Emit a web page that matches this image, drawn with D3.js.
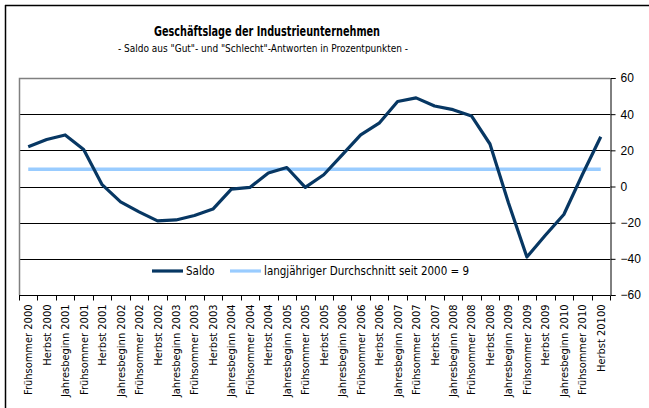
<!DOCTYPE html>
<html>
<head>
<meta charset="utf-8">
<script src="https://cdn.jsdelivr.net/npm/d3@7"></script>
<style>
  body { margin: 0; background: #fff; }
  svg { display: block; }
</style>
</head>
<body>
<div id="chart"></div>
<script>
// Data
const categories = [
  "Frühsommer 2000", "Herbst 2000", "Jahresbeginn 2001", "Frühsommer 2001", "Herbst 2001",
  "Jahresbeginn 2002", "Frühsommer 2002", "Herbst 2002", "Jahresbeginn 2003", "Frühsommer 2003",
  "Herbst 2003", "Jahresbeginn 2004", "Frühsommer 2004", "Herbst 2004", "Jahresbeginn 2005",
  "Frühsommer 2005", "Herbst 2005", "Jahresbeginn 2006", "Frühsommer 2006", "Herbst 2006",
  "Jahresbeginn 2007", "Frühsommer 2007", "Herbst 2007", "Jahresbeginn 2008", "Frühsommer 2008",
  "Herbst 2008", "Jahresbeginn 2009", "Frühsommer 2009", "Herbst 2009", "Jahresbeginn 2010",
  "Frühsommer 2010", "Herbst 20100"
];
const saldo = [
  22, 26, 28.5, 20.5, 1, -8.5, -14, -19, -18.5, -16,
  -12.5, -1.5, -0.5, 7.5, 10.5, -0.5, 6.5, 17.5, 28.5, 35,
  47, 49, 44.5, 42.5, 39, 23.5, -9, -39, -27, -15.5,
  6.5, 27.5
];
const average = 9.5;
const yTicks = [-60, -40, -20, 0, 20, 40, 60];
const title = "Geschäftslage der Industrieunternehmen";
const subtitle = '- Saldo aus "Gut"- und "Schlecht"-Antworten in Prozentpunkten -';
const legendLabels = ["Saldo", "langjähriger Durchschnitt seit 2000 = 9"];

const width = 649, height = 408;
const plot = { left: 19, right: 610, top: 78, bottom: 295 };
const labelFont = "'DejaVu Sans Condensed', 'DejaVu Sans', sans-serif";
const saldoColor = "#073763";
const avgColor = "#99ccff";

const svg = d3.select("#chart").append("svg")
  .attr("width", width)
  .attr("height", height);

// outer frame (top and left edges only are visible)
svg.append("line").attr("x1", 5).attr("x2", width).attr("y1", 5.5).attr("y2", 5.5)
  .attr("stroke", "#000").attr("stroke-width", 1.5);
svg.append("line").attr("x1", 5.5).attr("x2", 5.5).attr("y1", 5).attr("y2", height)
  .attr("stroke", "#000").attr("stroke-width", 1.5);

// titles (squeezed to the narrow face of the original)
svg.append("text")
  .attr("x", 267).attr("y", 36)
  .attr("text-anchor", "middle")
  .attr("font-family", labelFont)
  .attr("font-weight", "bold")
  .attr("font-size", 14)
  .attr("textLength", 226)
  .attr("lengthAdjust", "spacingAndGlyphs")
  .text(title);
svg.append("text")
  .attr("x", 263).attr("y", 52)
  .attr("text-anchor", "middle")
  .attr("font-family", labelFont)
  .attr("font-size", 11)
  .attr("textLength", 290)
  .attr("lengthAdjust", "spacingAndGlyphs")
  .text(subtitle);

const x = d3.scaleBand().domain(categories).range([plot.left, plot.right]);
const y = d3.scaleLinear().domain([-60, 60]).range([plot.bottom, plot.top]);

// gridlines
svg.append("g").attr("class", "grid")
  .selectAll("line")
  .data(yTicks.filter(d => d > -60 && d < 60))
  .join("line")
  .attr("x1", plot.left).attr("x2", plot.right)
  .attr("y1", d => Math.round(y(d)) + 0.5).attr("y2", d => Math.round(y(d)) + 0.5)
  .attr("stroke", "#000").attr("stroke-width", 1);

// plot area border (top and left, gray)
svg.append("path")
  .attr("d", `M${plot.left + 0.5},${plot.bottom}V${Math.round(plot.top) + 0.5}H${plot.right}`)
  .attr("fill", "none").attr("stroke", "#808080").attr("stroke-width", 1.5);

// right axis
const yAxis = svg.append("g")
  .attr("transform", `translate(${plot.right + 0.5},0)`)
  .call(d3.axisRight(y).tickValues(yTicks).tickSize(5).tickPadding(5).tickFormat(d3.format("d")));
yAxis.select(".domain").attr("stroke", "#000");
yAxis.selectAll("text").attr("font-family", "'Liberation Sans', Arial, sans-serif")
  .attr("font-size", 12).attr("fill", "#000");

// bottom axis: ticks between categories
const xAxis = svg.append("g")
  .attr("transform", `translate(0,${Math.round(plot.bottom) + 0.5})`);
xAxis.append("line")
  .attr("x1", plot.left).attr("x2", plot.right)
  .attr("stroke", "#000");
xAxis.selectAll("line.tick")
  .data(categories.concat([null]))
  .join("line")
  .attr("class", "tick")
  .attr("x1", (d, i) => Math.round(plot.left + i * x.step()) + 0.5)
  .attr("x2", (d, i) => Math.round(plot.left + i * x.step()) + 0.5)
  .attr("y1", 0).attr("y2", 5)
  .attr("stroke", "#000");
xAxis.selectAll("text")
  .data(categories)
  .join("text")
  .attr("transform", d => `translate(${x(d) + x.bandwidth() / 2 + 4},9) rotate(-90)`)
  .attr("text-anchor", "end")
  .attr("font-family", labelFont)
  .attr("font-size", 11)
  .text(d => d);

// average line
const cx = d => x(d) + x.bandwidth() / 2;
svg.append("line")
  .attr("x1", cx(categories[0])).attr("x2", cx(categories[categories.length - 1]))
  .attr("y1", y(average)).attr("y2", y(average))
  .attr("stroke", avgColor).attr("stroke-width", 3.5);

// saldo line
const line = d3.line()
  .x((d, i) => cx(categories[i]))
  .y(d => y(d));
svg.append("path")
  .datum(saldo)
  .attr("d", line)
  .attr("fill", "none")
  .attr("stroke", saldoColor)
  .attr("stroke-width", 3.2)
  .attr("stroke-linejoin", "round");

// legend
const legend = svg.append("g").attr("transform", "translate(152,271)");
const legendItems = [
  { label: legendLabels[0], color: saldoColor, x: 0 },
  { label: legendLabels[1], color: avgColor, x: 78 }
];
legendItems.forEach(item => {
  legend.append("line")
    .attr("x1", item.x).attr("x2", item.x + 31)
    .attr("y1", 0).attr("y2", 0)
    .attr("stroke", item.color).attr("stroke-width", 3.2);
  legend.append("text")
    .attr("x", item.x + 34).attr("y", 4)
    .attr("font-family", labelFont)
    .attr("font-size", 11.5)
    .text(item.label);
});
</script>
</body>
</html>
